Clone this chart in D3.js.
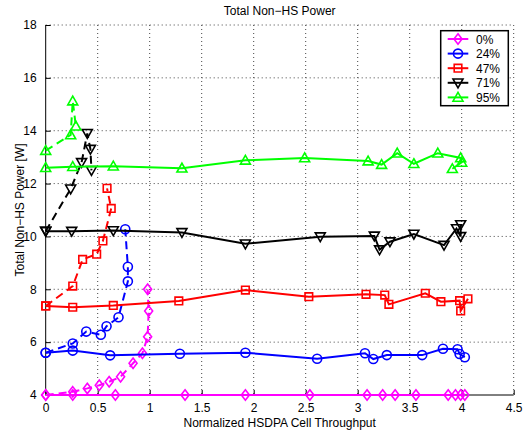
<!DOCTYPE html>
<html>
<head>
<meta charset="utf-8">
<script src="https://cdn.jsdelivr.net/npm/d3@7"></script>
<style>
  body { margin: 0; background: #fff; }
  text { font-family: "Liberation Sans", Arial, Helvetica, sans-serif; font-size: 12px; fill: #000; }
</style>
</head>
<body>
<div id="chart"></div>
<script>
const xTicks = [0, 0.5, 1, 1.5, 2, 2.5, 3, 3.5, 4, 4.5];
const yTicks = [4, 6, 8, 10, 12, 14, 16, 18];
const loads = ['0%', '24%', '47%', '71%', '95%'];
const colors = ['#ff00ff', '#0000ff', '#ff0000', '#000000', '#00ff00'];
const markers = ['diamond', 'circle', 'square', 'triangleDown', 'triangleUp'];

// solid = one curve per load, dashed = the other one
const solid0 = [[0, 4], [0.26, 4], [0.67, 4], [1.34, 4], [1.92, 4], [2.54, 4], [3.09, 4], [3.24, 4], [3.36, 4], [3.56, 4], [3.87, 4], [3.94, 4], [3.99, 4], [4.03, 4]];
const dashed0 = [[0, 4], [0.26, 4.12], [0.40, 4.25], [0.515, 4.37], [0.61, 4.5], [0.72, 4.69], [0.84, 5.2], [0.93, 5.58], [0.98, 6.2], [0.99, 7.18], [0.98, 8.0]];
const solid24 = [[0, 5.6], [0.26, 5.68], [0.62, 5.5], [1.29, 5.56], [1.92, 5.6], [2.61, 5.37], [3.07, 5.58], [3.15, 5.36], [3.28, 5.51], [3.62, 5.51], [3.82, 5.75], [3.96, 5.73], [3.98, 5.55], [4.03, 5.43]];
const dashed24 = [[0, 5.6], [0.26, 5.95], [0.39, 6.4], [0.53, 6.28], [0.585, 6.6], [0.70, 6.94], [0.79, 8.3], [0.79, 8.85], [0.765, 10.27]];
const solid47 = [[0, 7.37], [0.26, 7.32], [0.65, 7.39], [1.28, 7.56], [1.92, 7.97], [2.53, 7.72], [3.08, 7.81], [3.26, 7.78], [3.30, 7.43], [3.65, 7.85], [3.80, 7.53], [3.98, 7.57], [3.99, 7.18], [4.06, 7.64]];
const dashed47 = [[0, 7.37], [0.26, 8.12], [0.355, 9.13], [0.49, 9.33], [0.55, 9.83], [0.63, 11.06], [0.59, 11.82]];
const solid71 = [[0, 10.2], [0.25, 10.2], [0.65, 10.22], [1.31, 10.15], [1.92, 9.72], [2.64, 9.99], [3.16, 10.02], [3.21, 9.5], [3.31, 9.8], [3.54, 10.09], [3.83, 9.67], [3.95, 10.3], [3.99, 10.0], [3.99, 10.45]];
const dashed71 = [[0, 10.2], [0.24, 11.8], [0.345, 12.8], [0.40, 13.9], [0.43, 13.3], [0.44, 12.5]];
const solid95 = [[0, 12.6], [0.26, 12.64], [0.65, 12.66], [1.31, 12.58], [1.92, 12.88], [2.49, 12.97], [3.10, 12.85], [3.23, 12.72], [3.38, 13.15], [3.54, 12.75], [3.77, 13.15], [3.99, 12.97], [4.0, 12.8], [3.91, 12.56]];
const dashed95 = [[0, 13.25], [0.24, 13.84], [0.26, 15.12], [0.29, 14.17]];

const solids = [solid0, solid24, solid47, solid71, solid95];
const dashes = [dashed0, dashed24, dashed47, dashed71, dashed95];

const width = 532, height = 435;
const svg = d3.select('#chart').append('svg')
  .attr('width', width)
  .attr('height', height);

const x = d3.scaleLinear().domain([0, 4.5]).range([45.7, 513.7]);
const y = d3.scaleLinear().domain([4, 18]).range([395, 25]);

// grid
const grid = svg.append('g')
  .attr('stroke', '#444')
  .attr('stroke-width', 1)
  .attr('stroke-dasharray', '1,3');
grid.selectAll('.gx').data(xTicks.slice(1)).enter().append('line')
  .attr('x1', d => x(d)).attr('x2', d => x(d))
  .attr('y1', y(18)).attr('y2', y(4));
grid.selectAll('.gy').data(yTicks.slice(1)).enter().append('line')
  .attr('x1', x(0)).attr('x2', x(4.5))
  .attr('y1', d => y(d)).attr('y2', d => y(d));

// axes, ticks inward
const xAxis = d3.axisBottom(x).tickValues(xTicks).tickSize(-5).tickPadding(8).tickFormat(d3.format('~g'));
const yAxis = d3.axisLeft(y).tickValues(yTicks).tickSize(-5).tickPadding(9).tickFormat(d3.format('~g'));
const gx = svg.append('g').attr('transform', `translate(0,${y(4)})`).call(xAxis);
const gy = svg.append('g').attr('transform', `translate(${x(0)},0)`).call(yAxis);
[gx, gy].forEach(g => {
  g.select('.domain').attr('stroke', '#000').attr('stroke-width', 1).attr('d',
    g === gx ? `M${x(0)},0H${x(4.5)}` : `M0,${y(4)}V${y(18)}`);
  g.selectAll('.tick line').attr('stroke', '#000');
  g.selectAll('.tick text').style('font-size', '12px').style('font-family', '"Liberation Sans", Arial, sans-serif').attr('fill', '#000');
});

const markerPath = (type) => {
  switch (type) {
    case 'diamond': return 'M0,-5.2L4,0L0,5.2L-4,0Z';
    case 'square': return 'M-3.8,-3.8H3.8V3.8H-3.8Z';
    case 'triangleUp': return 'M0,-5L5,3.8H-5Z';
    case 'triangleDown': return 'M0,5L5,-3.8H-5Z';
    default: return d3.symbol(d3.symbolCircle, 64)();
  }
};

const line = d3.line().x(d => x(d[0])).y(d => y(d[1]));

loads.forEach((name, i) => {
  const g = svg.append('g');
  g.append('path').datum(solids[i])
    .attr('d', line).attr('fill', 'none')
    .attr('stroke', colors[i]).attr('stroke-width', 2);
  g.append('path').datum(dashes[i])
    .attr('d', line).attr('fill', 'none')
    .attr('stroke', colors[i]).attr('stroke-width', 2)
    .attr('stroke-dasharray', '8,5');
  g.selectAll('.m').data(solids[i].concat(dashes[i])).enter().append('path')
    .attr('d', markerPath(markers[i]))
    .attr('transform', d => `translate(${x(d[0])},${y(d[1])})`)
    .attr('fill', 'none')
    .attr('stroke', colors[i]).attr('stroke-width', 1.6);
});

// title and labels
svg.append('text').attr('x', 279.7).attr('y', 15).attr('text-anchor', 'middle').text('Total Non−HS Power');
svg.append('text').attr('x', 279.7).attr('y', 427).attr('text-anchor', 'middle').text('Normalized HSDPA Cell Throughput');
svg.append('text').attr('transform', 'translate(24,210) rotate(-90)').attr('text-anchor', 'middle').text('Total Non−HS Power [W]');

// legend
const legend = svg.append('g');
legend.append('rect').attr('x', 440.7).attr('y', 30.7).attr('width', 67.6).attr('height', 75)
  .attr('fill', '#fff').attr('stroke', '#000').attr('stroke-width', 1.5);
loads.forEach((name, i) => {
  const ly = 39 + i * 14.6;
  legend.append('line').attr('x1', 447.7).attr('x2', 468.3).attr('y1', ly).attr('y2', ly)
    .attr('stroke', colors[i]).attr('stroke-width', 2);
  legend.append('path').attr('d', markerPath(markers[i]))
    .attr('transform', `translate(458,${ly})`)
    .attr('fill', 'none').attr('stroke', colors[i]).attr('stroke-width', 1.6);
  legend.append('text').attr('x', 476).attr('y', ly + 4.5).text(name);
});
</script>
</body>
</html>
